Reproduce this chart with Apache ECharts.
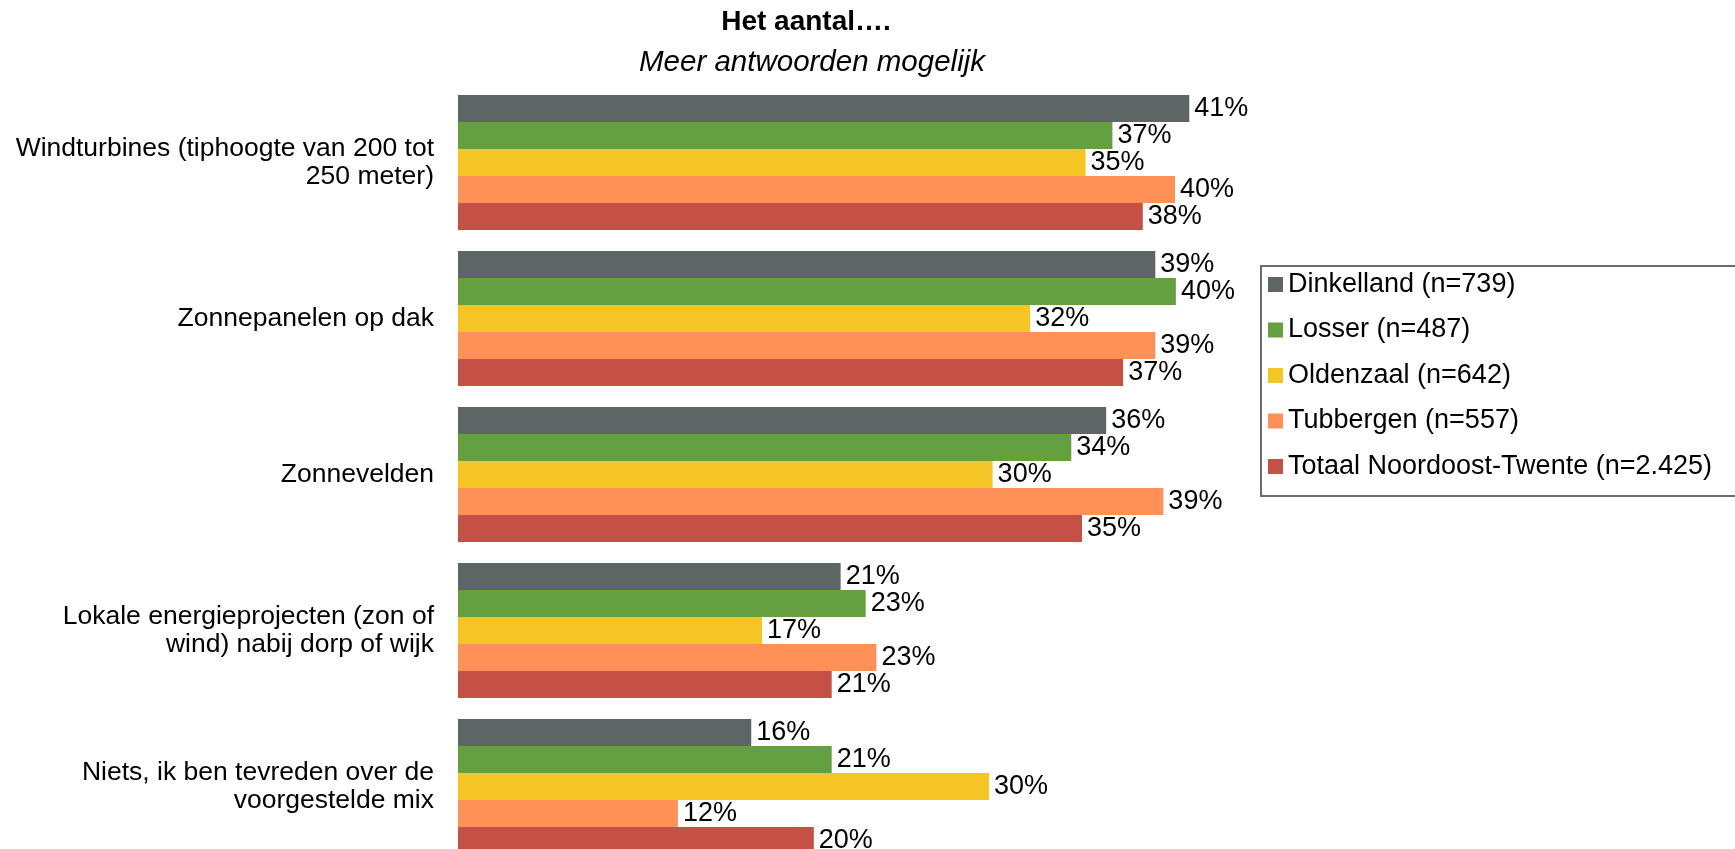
<!DOCTYPE html>
<html>
<head>
<meta charset="utf-8">
<title>Het aantal....</title>
<script src="https://cdn.jsdelivr.net/npm/echarts@6/dist/echarts.min.js"></script>
<style>
  html, body { margin: 0; padding: 0; background: #fff; }
  #chart { width: 1735px; height: 849px; }
</style>
</head>
<body>
<div id="chart"></div>
<script>
// categorieën (van boven naar beneden)
const categories = [
  'Windturbines (tiphoogte van 200 tot\n250 meter)',
  'Zonnepanelen op dak',
  'Zonnevelden',
  'Lokale energieprojecten (zon of\nwind) nabij dorp of wijk',
  'Niets, ik ben tevreden over de\nvoorgestelde mix'
]

// reeksen
const seriesNames = [
  'Dinkelland (n=739)',
  'Losser (n=487)',
  'Oldenzaal (n=642)',
  'Tubbergen (n=557)',
  'Totaal Noordoost-Twente (n=2.425)'
]
const seriesColors = ['#5D6664', '#64A040', '#F4C525', '#FF9058', '#C55045']

// percentages per reeks (geschat uit de balklengte, label wordt afgerond)
const dinkelland = [40.9, 39.0, 36.25, 21.4, 16.4]
const losser = [36.6, 40.15, 34.3, 22.8, 20.9]
const oldenzaal = [35.1, 32.0, 29.9, 17.0, 29.7]
const tubbergen = [40.1, 39.0, 39.45, 23.4, 12.3]
const totaal = [38.3, 37.2, 34.9, 20.9, 19.9]
const seriesValues = [dinkelland, losser, oldenzaal, tubbergen, totaal]

const fontFamily = '"Liberation Sans", Arial, sans-serif'

const chart = echarts.init(document.getElementById('chart'))

const option = {
  animation: false,
  title: [
    {
      text: 'Het aantal….',
      left: 801,
      top: 3,
      textAlign: 'center',
      textStyle: { fontFamily, fontSize: 28, fontWeight: 'bold', color: '#000' }
    },
    {
      text: 'Meer antwoorden mogelijk',
      left: 807,
      top: 43,
      textAlign: 'center',
      textStyle: { fontFamily, fontSize: 29.5, fontStyle: 'italic', fontWeight: 'normal', color: '#000' }
    }
  ],
  legend: {
    orient: 'vertical',
    left: 1261,
    top: 265,
    padding: [6, 10, 18, 7],
    itemWidth: 15,
    itemHeight: 15,
    itemGap: 18.5,
    icon: 'rect',
    data: seriesNames,
    textStyle: { fontFamily, fontSize: 27, color: '#000' }
  },
  // kader rond de legenda (rechterkant valt buiten beeld)
  graphic: [
    {
      type: 'rect',
      shape: { x: 1261, y: 266, width: 490, height: 230 },
      style: { fill: 'none', stroke: '#6B6B6B', lineWidth: 2 },
      silent: true
    }
  ],
  grid: {
    left: 458,
    top: 84.5,
    width: 894,
    height: 780,
    outerBoundsMode: 'none'
  },
  xAxis: {
    type: 'value',
    min: 0,
    max: 50,
    show: false
  },
  yAxis: {
    type: 'category',
    inverse: true,
    data: categories,
    axisLine: { show: false },
    axisTick: { show: false },
    axisLabel: {
      margin: 24,
      fontFamily,
      fontSize: 26.5,
      lineHeight: 28,
      color: '#000',
      align: 'right'
    }
  },
  series: seriesNames.map((name, i) => ({
    name,
    type: 'bar',
    data: seriesValues[i],
    barWidth: 27,
    barGap: '0%',
    itemStyle: { color: seriesColors[i] },
    label: {
      show: true,
      position: 'right',
      distance: 5,
      formatter: p => Math.round(p.value) + '%',
      fontFamily,
      fontSize: 27,
      color: '#000'
    }
  }))
}

chart.setOption(option)
</script>
</body>
</html>
